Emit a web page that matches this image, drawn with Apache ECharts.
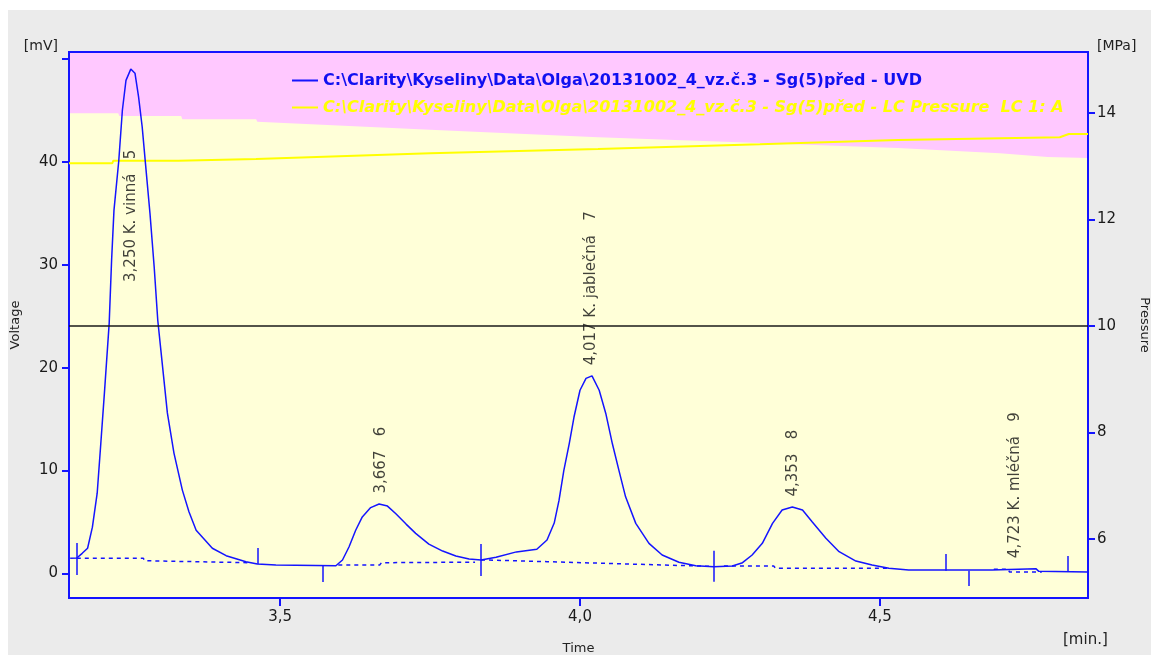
<!DOCTYPE html>
<html>
<head>
<meta charset="utf-8">
<title>Chromatogram</title>
<script src="https://cdn.jsdelivr.net/npm/echarts@6/dist/echarts.min.js"></script>
<style>
  html, body { margin: 0; padding: 0; background: #fff; }
  #chart { position: absolute; left: 8px; top: 10px; width: 1143px; height: 645px; background: #ebebeb; }
</style>
</head>
<body>
<div id="chart"></div>
<script>
const uvdName = 'C:\\Clarity\\Kyseliny\\Data\\Olga\\20131002_4_vz.č.3 - Sg(5)před - UVD'
const pressureName = 'C:\\Clarity\\Kyseliny\\Data\\Olga\\20131002_4_vz.č.3 - Sg(5)před - LC Pressure  LC 1: A'

// detector signal [mV]
const uvdTime = [3.150, 3.161, 3.170, 3.179, 3.187, 3.195, 3.201, 3.207, 3.215, 3.219, 3.223, 3.231, 3.237, 3.243, 3.251,
  3.258, 3.264, 3.270, 3.276, 3.283, 3.290, 3.296, 3.304, 3.312, 3.323, 3.337, 3.348, 3.360, 3.387, 3.410, 3.443, 3.462,
  3.493, 3.496, 3.593, 3.604, 3.615, 3.626, 3.637, 3.651, 3.665, 3.679, 3.693, 3.710, 3.726, 3.748, 3.771, 3.793, 3.815,
  3.835, 3.860, 3.894, 3.928, 3.945, 3.957, 3.965, 3.973, 3.982, 3.990, 4.000, 4.010, 4.020, 4.032, 4.043, 4.054, 4.065,
  4.076, 4.093, 4.115, 4.137, 4.165, 4.193, 4.223, 4.254, 4.271, 4.287, 4.304, 4.321, 4.337, 4.354, 4.371, 4.387, 4.410,
  4.432, 4.460, 4.487, 4.515, 4.548, 4.687, 4.690, 4.760, 4.765, 4.847]
const uvdValue = [1.47, 1.50, 1.96, 2.45, 4.5, 7.8, 12.6, 17.5, 24.3, 30.4, 35.3, 40.1, 45.0, 47.9, 49.0,
  48.6, 46.3, 43.4, 39.5, 35.0, 29.8, 24.6, 20.1, 15.6, 11.7, 8.1, 6.0, 4.2, 2.45, 1.73, 1.15, 0.92,
  0.82, 0.66, 0.75, 1.31, 2.6, 4.2, 5.5, 6.4, 6.75, 6.55, 5.8, 4.8, 3.9, 2.86, 2.18, 1.70, 1.41,
  1.31, 1.57, 2.1, 2.35, 3.25, 4.9, 7.1, 10.0, 12.6, 15.2, 17.8, 18.95, 19.2, 17.8, 15.55, 12.6, 10.0,
  7.45, 4.87, 2.93, 1.8, 1.09, 0.76, 0.66, 0.73, 1.05, 1.8, 2.93, 4.87, 6.17, 6.46, 6.17, 5.03, 3.42,
  2.12, 1.21, 0.83, 0.50, 0.34, 0.34, 0.47, 0.47, 0.21, 0.15]

// integration baselines (null = gap between peaks)
const baseTime = [3.161, 3.272, 3.274, 3.448, 3.448,
  3.597, 3.666, 3.669, 3.825, 3.825,
  3.835, 3.846, 3.848, 3.945, 3.948, 4.040, 4.043, 4.215, 4.215,
  4.240, 4.323, 4.326, 4.515, 4.515,
  4.690, 4.714, 4.716, 4.770]
const baseValue = [1.47, 1.47, 1.24, 1.05, null,
  0.83, 0.83, 1.05, 1.10, null,
  1.31, 1.31, 1.15, 1.15, 0.99, 0.99, 0.83, 0.70, null,
  0.73, 0.73, 0.52, 0.50, null,
  0.42, 0.42, 0.15, 0.15]

// peak start / end marks
const markTime = [3.161, 3.462, 3.571, 3.835, 4.223, 4.610, 4.648, 4.814]
const markLow = [-0.15, 0.92, -0.83, -0.24, -0.80, 0.27, -1.21, 0.17]
const markHigh = [2.96, 2.48, 0.73, 2.86, 2.21, 1.89, 0.27, 1.70]

// peak labels
const peakTime = [3.252, 3.669, 4.019, 4.355, 4.725]
const peakLabelAt = [27.3, 6.75, 19.2, 6.46, 0.47]
const peakText = ['3,250 K. vinná   5', '3,667   6', '4,017 K. jablečná   7', '4,353   8', '4,723 K. mléčná   9']

// pressure [MPa]
const pressTime = [3.148, 3.220, 3.222, 3.330, 3.332, 3.460, 3.462, 3.75, 4.03, 4.30, 4.53, 4.80, 4.815, 4.847]
const pressValue = [13.05, 13.05, 13.10, 13.10, 13.13, 13.13, 13.15, 13.24, 13.32, 13.41, 13.49, 13.54, 13.60, 13.60]

// upper edge of the pale background band [MPa]
const bandTime = [3.148, 3.230, 3.232, 3.335, 3.337, 3.460, 3.462, 3.75, 4.03, 4.30, 4.53, 4.70, 4.78, 4.847]
const bandValue = [13.99, 13.99, 13.94, 13.94, 13.88, 13.88, 13.83, 13.68, 13.54, 13.43, 13.34, 13.24, 13.17, 13.15]

const xTicks = [3.5, 4.0, 4.5]
const mvTicks = [0, 10, 20, 30, 40, 50]
const mvLabels = [0, 10, 20, 30, 40]
const mpaTicks = [6, 8, 10, 12, 14]

const blue = '#1414ff'
const font = 'DejaVu Sans'
const chart = echarts.init(document.getElementById('chart'))

chart.setOption({
  animation: false,
  textStyle: { fontFamily: font },
  grid: {
    left: 61, right: 63, top: 42, bottom: 57,
    outerBoundsMode: 'none',
    containLabel: false,
    show: true,
    backgroundColor: '#ffc8ff',
    borderColor: blue,
    borderWidth: 2
  },
  legend: {
    orient: 'vertical',
    left: 284,
    top: 62,
    padding: 0,
    itemWidth: 26,
    itemHeight: 2,
    itemGap: 10,
    icon: 'rect',
    selectedMode: false,
    data: [
      { name: uvdName, itemStyle: { color: blue }, textStyle: { color: '#1010f0', fontWeight: 'bold', fontSize: 16, lineHeight: 17, fontFamily: font } },
      { name: pressureName, itemStyle: { color: '#ffff00' }, textStyle: { color: '#ffff00', fontWeight: 'bold', fontStyle: 'italic', fontSize: 16, lineHeight: 17, fontFamily: font } }
    ]
  },
  graphic: [
    { type: 'text', right: 1093, top: 29, style: { text: '[mV]', font: '14px DejaVu Sans', fill: '#222' } },
    { type: 'text', left: 1089, top: 29, style: { text: '[MPa]', font: '14px DejaVu Sans', fill: '#222' } },
    { type: 'text', left: 1055, top: 623, style: { text: '[min.]', font: '15px DejaVu Sans', fill: '#222' } }
  ],
  xAxis: {
    type: 'value',
    min: 3.148,
    max: 4.847,
    name: 'Time',
    nameLocation: 'middle',
    nameGap: 44,
    nameTextStyle: { fontSize: 13, color: '#222' },
    axisLine: { onZero: false, lineStyle: { color: blue, width: 2 } },
    axisTick: { customValues: xTicks, length: 8, lineStyle: { color: blue, width: 2 } },
    axisLabel: {
      customValues: xTicks,
      formatter: v => v.toFixed(1).replace('.', ','),
      color: '#1a1a1a', fontSize: 15, margin: 12
    },
    splitLine: { show: false }
  },
  yAxis: [
    {
      type: 'value',
      position: 'left',
      min: -2.38,
      max: 50.66,
      name: 'Voltage',
      nameLocation: 'middle',
      nameGap: 47,
      nameRotate: 90,
      nameTextStyle: { fontSize: 13, color: '#222' },
      axisLine: { show: true, onZero: false, lineStyle: { color: blue, width: 2 } },
      axisTick: { customValues: mvTicks, length: 7, lineStyle: { color: blue, width: 2 } },
      axisLabel: { customValues: mvLabels, color: '#1a1a1a', fontSize: 15, margin: 11 },
      splitLine: { show: false }
    },
    {
      type: 'value',
      position: 'right',
      min: 4.893,
      max: 15.14,
      name: 'Pressure',
      nameLocation: 'middle',
      nameGap: 50,
      nameRotate: -90,
      nameTextStyle: { fontSize: 13, color: '#222' },
      axisLine: { show: true, onZero: false, lineStyle: { color: blue, width: 2 } },
      axisTick: { customValues: mpaTicks, length: 7, lineStyle: { color: blue, width: 2 } },
      axisLabel: { customValues: mpaTicks, color: '#1a1a1a', fontSize: 15, margin: 9 },
      splitLine: { show: false }
    }
  ],
  series: [
    {
      name: 'band',
      type: 'line',
      yAxisIndex: 1,
      symbol: 'none',
      silent: true,
      z: 0,
      lineStyle: { width: 0 },
      areaStyle: { color: '#ffffd8', opacity: 1, origin: 'start' },
      data: bandTime.map((t, i) => [t, bandValue[i]])
    },
    {
      name: pressureName,
      type: 'line',
      yAxisIndex: 1,
      symbol: 'none',
      z: 2,
      lineStyle: { color: '#ffff00', width: 2 },
      itemStyle: { color: '#ffff00' },
      data: pressTime.map((t, i) => [t, pressValue[i]]),
      markLine: {
        silent: true,
        symbol: 'none',
        label: { show: false },
        lineStyle: { color: '#1a1a1a', width: 1.5, type: 'solid' },
        data: [{ yAxis: 10 }]
      }
    },
    {
      name: uvdName,
      type: 'line',
      symbol: 'none',
      z: 3,
      lineStyle: { color: blue, width: 1.5 },
      itemStyle: { color: blue },
      data: uvdTime.map((t, i) => [t, uvdValue[i]]),
      markLine: {
        silent: true,
        symbol: 'none',
        label: { show: false },
        lineStyle: { color: blue, width: 1.5, type: 'solid' },
        data: markTime.map((t, i) => [{ coord: [t, markLow[i]] }, { coord: [t, markHigh[i]] }])
      }
    },
    {
      name: 'baseline',
      type: 'line',
      symbol: 'none',
      z: 3,
      lineStyle: { color: blue, width: 1.5, type: [4, 4] },
      data: baseTime.map((t, i) => [t, baseValue[i] === null ? '-' : baseValue[i]])
    },
    {
      name: 'peaks',
      type: 'scatter',
      symbolSize: 1,
      z: 4,
      silent: true,
      itemStyle: { color: 'rgba(0,0,0,0)' },
      label: {
        show: true,
        position: 'top',
        distance: 10,
        rotate: 90,
        align: 'left',
        verticalAlign: 'middle',
        color: '#111',
        fontSize: 15,
        fontFamily: font,
        formatter: p => p.data[2]
      },
      data: peakTime.map((t, i) => [t, peakLabelAt[i], peakText[i]])
    }
  ]
})
</script>
</body>
</html>
